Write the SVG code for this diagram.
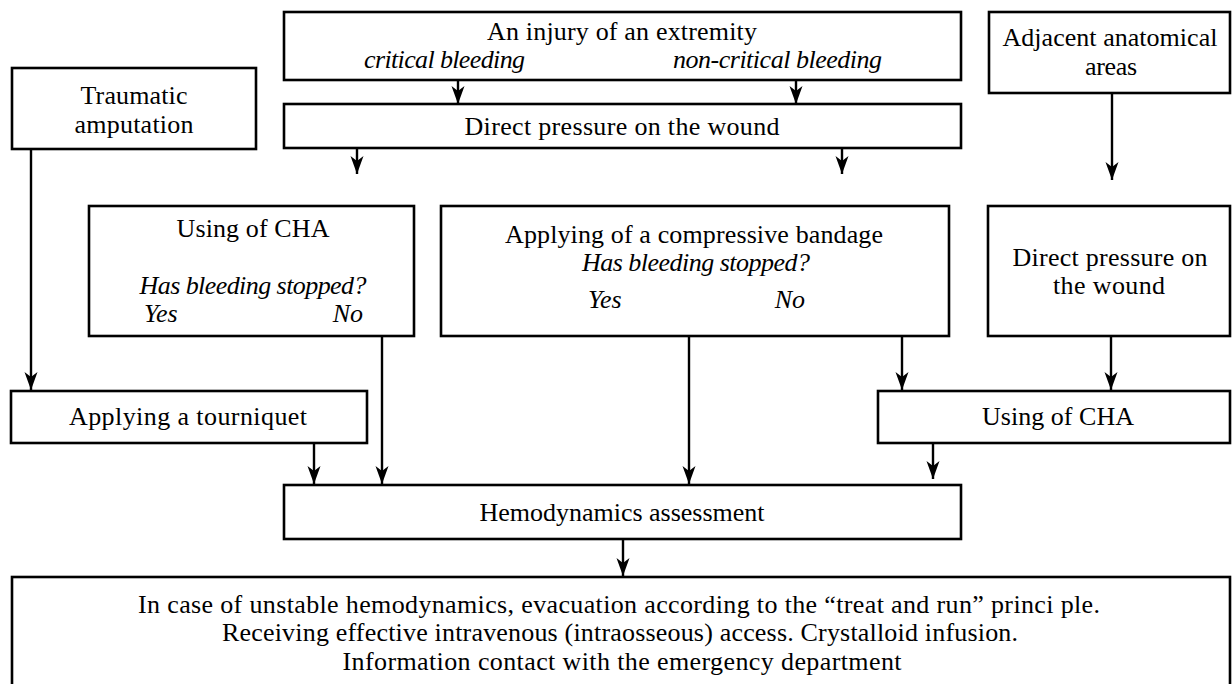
<svg xmlns="http://www.w3.org/2000/svg" width="1232" height="684" viewBox="0 0 1232 684">
<style>
rect.box{fill:#fff;stroke:#000;stroke-width:2.6}
text{font-family:'Liberation Serif',serif;font-size:26px;fill:#000}
text.c{text-anchor:middle}
text.i{font-style:italic}
.conn line{stroke:#000;stroke-width:2.4;fill:none}
</style>
<defs>
<marker id="ah" markerUnits="userSpaceOnUse" viewBox="-18 -7 19 14" refX="0" refY="0" markerWidth="19" markerHeight="14" orient="auto">
<path d="M-18,-6.5 L0,0 L-18,6.5 L-13,0 z" fill="#000"/>
</marker>
</defs>
<rect width="1232" height="684" fill="#fff"/>

<g id="traumatic">
<rect class="box" x="12" y="68" width="244" height="81"/>
<text class="c" x="134" y="104" textLength="107" lengthAdjust="spacing">Traumatic</text>
<text class="c" x="134" y="133" textLength="119" lengthAdjust="spacing">amputation</text>
</g>

<g id="injury">
<rect class="box" x="284" y="12" width="677" height="68"/>
<text class="c" x="622" y="40" textLength="270" lengthAdjust="spacing">An injury of an extremity</text>
<text class="i" x="364" y="68" textLength="161" lengthAdjust="spacing">critical bleeding</text>
<text class="i" x="673" y="68" textLength="209" lengthAdjust="spacing">non-critical bleeding</text>
</g>

<g id="direct-top">
<rect class="box" x="284" y="104" width="677" height="44"/>
<text class="c" x="622" y="135" textLength="315" lengthAdjust="spacing">Direct pressure on the wound</text>
</g>

<g id="adjacent">
<rect class="box" x="989" y="12" width="241" height="81"/>
<text class="c" x="1110" y="46" textLength="215" lengthAdjust="spacing">Adjacent anatomical</text>
<text class="c" x="1111" y="75" textLength="52" lengthAdjust="spacing">areas</text>
</g>

<g id="cha-left">
<rect class="box" x="89" y="206" width="325" height="130"/>
<text class="c" x="253" y="237" textLength="153" lengthAdjust="spacing">Using of CHA</text>
<text class="c i" x="253" y="294" textLength="227" lengthAdjust="spacing">Has bleeding stopped?</text>
<text class="i" x="144" y="322">Yes</text>
<text class="i" x="363" y="322" text-anchor="end">No</text>
</g>

<g id="compressive">
<rect class="box" x="441" y="206" width="508" height="130"/>
<text class="c" x="694" y="243" textLength="378" lengthAdjust="spacing">Applying of a  compressive bandage</text>
<text class="c i" x="696" y="271" textLength="228" lengthAdjust="spacing">Has bleeding stopped?</text>
<text class="i" x="588" y="308">Yes</text>
<text class="i" x="805" y="308" text-anchor="end">No</text>
</g>

<g id="direct-right">
<rect class="box" x="988" y="206" width="242" height="130"/>
<text class="c" x="1110" y="266" textLength="195" lengthAdjust="spacing">Direct pressure on</text>
<text class="c" x="1109" y="294" textLength="112" lengthAdjust="spacing">the wound</text>
</g>

<g id="tourniquet">
<rect class="box" x="11" y="391" width="356" height="52"/>
<text class="c" x="188" y="425" textLength="238" lengthAdjust="spacing">Applying a  tourniquet</text>
</g>

<g id="cha-right">
<rect class="box" x="878" y="391" width="352" height="52"/>
<text class="c" x="1058" y="425" textLength="152" lengthAdjust="spacing">Using of CHA</text>
</g>

<g id="hemodynamics">
<rect class="box" x="284" y="485" width="677" height="54"/>
<text class="c" x="622" y="521" textLength="285" lengthAdjust="spacing">Hemodynamics assessment</text>
</g>

<g id="final">
<rect class="box" x="12" y="577" width="1218" height="130"/>
<text class="c" x="619" y="613" textLength="962" lengthAdjust="spacing">In case of unstable hemodynamics, evacuation according to the “treat and run” princi ple.</text>
<text class="c" x="620" y="641" textLength="796" lengthAdjust="spacing">Receiving effective intravenous (intraosseous)  access.  Crystalloid infusion.</text>
<text class="c" x="622" y="670" textLength="559" lengthAdjust="spacing">Information contact with the emergency department</text>
</g>

<g id="connectors" class="conn">
<line x1="458" y1="80" x2="458" y2="104" marker-end="url(#ah)"/>
<line x1="796" y1="80" x2="796" y2="104" marker-end="url(#ah)"/>
<line x1="357" y1="148" x2="357" y2="174" marker-end="url(#ah)"/>
<line x1="842" y1="148" x2="842" y2="174" marker-end="url(#ah)"/>
<line x1="1112" y1="93" x2="1112" y2="180" marker-end="url(#ah)"/>
<line x1="31" y1="149" x2="31" y2="390" marker-end="url(#ah)"/>
<line x1="382" y1="336" x2="382" y2="484" marker-end="url(#ah)"/>
<line x1="314" y1="443" x2="314" y2="484" marker-end="url(#ah)"/>
<line x1="689" y1="336" x2="689" y2="484" marker-end="url(#ah)"/>
<line x1="902" y1="336" x2="902" y2="390" marker-end="url(#ah)"/>
<line x1="1111" y1="336" x2="1111" y2="390" marker-end="url(#ah)"/>
<line x1="933" y1="443" x2="933" y2="479" marker-end="url(#ah)"/>
<line x1="623" y1="539" x2="623" y2="576" marker-end="url(#ah)"/>
</g>
</svg>
